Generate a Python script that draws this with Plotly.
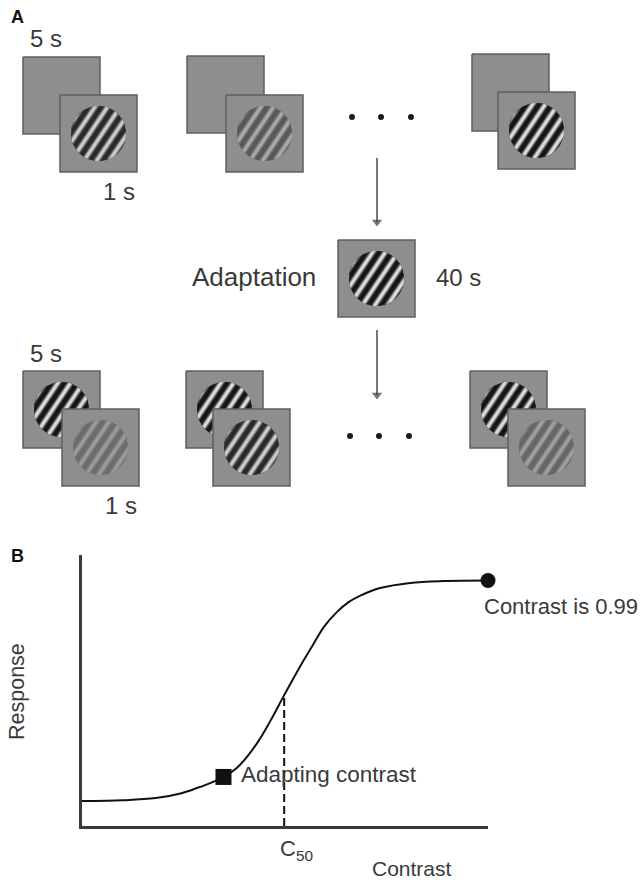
import numpy as np
import plotly.graph_objects as go

# ---------------- Panel B: contrast-response function ----------------
contrast = [0.0, 0.10, 0.18, 0.24, 0.28, 0.32, 0.345, 0.38, 0.427, 0.459, 0.493,
            0.527, 0.563, 0.59, 0.622, 0.65, 0.68, 0.727, 0.80, 0.88, 0.99]
response = [0.092, 0.095, 0.103, 0.120, 0.140, 0.163, 0.181, 0.218, 0.306, 0.387, 0.483,
            0.576, 0.668, 0.735, 0.790, 0.826, 0.851, 0.878, 0.897, 0.904, 0.906]
c50 = 0.493
r_c50 = 0.483
adapt_contrast = 0.345
adapt_response = 0.181
max_contrast = 0.99
max_response = 0.906

# ---------------- Panel A: stimulus sequence ----------------
pre_test_contrasts = [0.70, 0.35, 0.85]     # test gratings before adaptation
adapt_grating_contrast = 0.85               # adapting grating
post_adapt_contrasts = [0.85, 0.85, 0.85]   # top-up adaptor before each test
post_test_contrasts = [0.20, 0.70, 0.25]    # test gratings after adaptation
blank_label = "5 s"
test_label = "1 s"
adapt_label = "40 s"

# ---------------- layout constants (pixels of the page) ----------------
W, H = 641, 883
SQ = 77
RAD = 27.5
top_back = [(23, 57), (187, 56), (472, 54)]
top_front = [(60, 95), (226, 95), (498, 92)]
adapt_sq = (338, 240)
bot_back = [(23, 371), (186, 371), (470, 371)]
bot_front = [(62, 409), (213, 409), (508, 409)]
dots_top = [(352, 117), (381, 117), (411, 117)]
dots_bot = [(350, 436), (379, 436), (409, 436)]
arrows = [(377, 158, 228), (377, 330, 401)]

SQ_FILL = "#8e8e8e"
SQ_EDGE = "#5f5f5f"
TXT = "#3a3a3a"
FONT = "Liberation Sans, Arial, sans-serif"

fig = go.Figure()


def add_square(x, y):
    fig.add_trace(go.Scatter(
        x=[x, x + SQ, x + SQ, x, x], y=[y, y, y + SQ, y + SQ, y],
        mode="lines", fill="toself", fillcolor=SQ_FILL,
        line=dict(color=SQ_EDGE, width=1.5),
        xaxis="x2", yaxis="y2", hoverinfo="skip", showlegend=False))


def add_grating(cx, cy, c, period=10.5, theta_deg=56, levels=7, gamma=2.0):
    """Sinusoidal grating inside a disc, built from nested threshold bands."""
    th = np.deg2rad(theta_deg)
    n = np.array([np.sin(th), np.cos(th)])      # across the stripes
    d = np.array([np.cos(th), -np.sin(th)])     # along the stripes
    mean = 135.0
    lo = mean * (1 - c)
    hi = min(250.0, mean * (1 + c))
    peaks = np.arange(-3 * period, 3 * period + 0.1, period) + 0.3 * period
    for j in range(levels):
        m = (j + 0.5) / levels
        g = int(round(lo + (hi - lo) * m ** gamma))
        col = f"rgb({g},{g},{g})"
        xs, ys = [], []
        if j == 0:
            t = np.linspace(0, 2 * np.pi, 90)
            xs = list(cx + RAD * np.cos(t))
            ys = list(cy + RAD * np.sin(t))
        else:
            s = j / levels
            w = period / (2 * np.pi) * np.arccos(2 * s - 1)
            for p in peaks:
                u0, u1 = max(p - w, -RAD), min(p + w, RAD)
                if u1 - u0 <= 0.05:
                    continue
                uu = np.linspace(u0, u1, 14)
                vv = np.sqrt(np.clip(RAD ** 2 - uu ** 2, 0, None))
                ua = np.concatenate([uu, uu[::-1]])
                va = np.concatenate([vv, -vv[::-1]])
                px = cx + ua * n[0] + va * d[0]
                py = cy + ua * n[1] + va * d[1]
                xs += list(px) + [px[0], None]
                ys += list(py) + [py[0], None]
        fig.add_trace(go.Scatter(
            x=xs, y=ys, mode="lines", fill="toself", fillcolor=col,
            line=dict(width=0, color=col),
            xaxis="x2", yaxis="y2", hoverinfo="skip", showlegend=False))


# top row: blank then test grating
for (bx, by), (fx, fy), c in zip(top_back, top_front, pre_test_contrasts):
    add_square(bx, by)
    add_square(fx, fy)
    add_grating(fx + SQ / 2, fy + SQ / 2, c)

# adaptation stimulus
add_square(*adapt_sq)
add_grating(adapt_sq[0] + SQ / 2, adapt_sq[1] + SQ / 2, adapt_grating_contrast)

# bottom row: top-up adaptor then test grating
for (bx, by), (fx, fy), ca, ct in zip(bot_back, bot_front, post_adapt_contrasts, post_test_contrasts):
    add_square(bx, by)
    add_grating(bx + SQ / 2, by + SQ / 2, ca)
    add_square(fx, fy)
    add_grating(fx + SQ / 2, fy + SQ / 2, ct)

# ellipsis dots
for pts in (dots_top, dots_bot):
    fig.add_trace(go.Scatter(
        x=[p[0] for p in pts], y=[p[1] for p in pts], mode="markers",
        marker=dict(color="#1a1a1a", size=6), xaxis="x2", yaxis="y2",
        hoverinfo="skip", showlegend=False))

# downward arrows between rows
for ax_, y0, y1 in arrows:
    fig.add_trace(go.Scatter(
        x=[ax_, ax_], y=[y0, y1 - 6], mode="lines", line=dict(color="#4a4a4a", width=1.5),
        xaxis="x2", yaxis="y2", hoverinfo="skip", showlegend=False))
    fig.add_trace(go.Scatter(
        x=[ax_], y=[y1 - 6], mode="markers",
        marker=dict(symbol="triangle-down", size=[9], color="#3a3a3a", line=dict(width=0)),
        xaxis="x2", yaxis="y2", hoverinfo="skip", showlegend=False))

# ---------------- Panel B traces ----------------
fig.add_trace(go.Scatter(
    x=contrast, y=response, mode="lines",
    line=dict(color="#111111", width=2, shape="spline", smoothing=1.0),
    xaxis="x", yaxis="y", hoverinfo="skip", showlegend=False, cliponaxis=False))
fig.add_trace(go.Scatter(
    x=[c50, c50], y=[0, r_c50], mode="lines",
    line=dict(color="#111111", width=2, dash="8px,4px"),
    xaxis="x", yaxis="y", hoverinfo="skip", showlegend=False, cliponaxis=False))
fig.add_trace(go.Scatter(
    x=[adapt_contrast], y=[adapt_response], mode="markers",
    marker=dict(symbol="square", size=16, color="#111111"),
    xaxis="x", yaxis="y", hoverinfo="skip", showlegend=False, cliponaxis=False))
fig.add_trace(go.Scatter(
    x=[max_contrast], y=[max_response], mode="markers",
    marker=dict(symbol="circle", size=15, color="#111111"),
    xaxis="x", yaxis="y", hoverinfo="skip", showlegend=False, cliponaxis=False))

# ---------------- annotations ----------------
ann = []


def txt_px(x, y, text, size=24, xanchor="center", color=TXT, bold=False, angle=0):
    ann.append(dict(x=x, y=y, xref="x2", yref="y2", text=f"<b>{text}</b>" if bold else text,
                    showarrow=False, xanchor=xanchor, yanchor="middle", textangle=angle,
                    font=dict(family=FONT, size=size, color=color)))


txt_px(17, 17, "A", size=18, color="#111111", bold=True)
txt_px(46, 38, blank_label)
txt_px(119, 191, test_label)
txt_px(318, 277, "Adaptation", size=26, xanchor="right")
txt_px(434, 277, adapt_label, xanchor="left")
txt_px(46, 353, blank_label)
txt_px(121, 505, test_label)

txt_px(17, 556, "B", size=18, color="#111111", bold=True)
txt_px(17, 692, "Response", size=21.5, angle=-90)
txt_px(412, 868, "Contrast", size=21)

# panel B labels anchored to data points
ann.append(dict(x=adapt_contrast, y=adapt_response, xref="x", yref="y", text="Adapting contrast",
                showarrow=False, xanchor="left", yanchor="middle", xshift=16, yshift=2,
                font=dict(family=FONT, size=22.5, color=TXT)))
ann.append(dict(x=max_contrast, y=max_response, xref="x", yref="y", text=f"Contrast is {max_contrast}",
                showarrow=False, xanchor="left", yanchor="middle", xshift=-6, yshift=-26,
                font=dict(family=FONT, size=22, color=TXT)))
ann.append(dict(x=c50, y=0, xref="x", yref="y", text="C<sub>50</sub>",
                showarrow=False, xanchor="center", yanchor="middle", xshift=12, yshift=-24,
                font=dict(family=FONT, size=22, color=TXT)))

x0b, x1b = 82, 488
ytop, ybot = 555, 826
fig.update_layout(
    width=W, height=H, margin=dict(l=0, r=0, t=0, b=0),
    paper_bgcolor="white", plot_bgcolor="rgba(0,0,0,0)",
    showlegend=False, annotations=ann,
    xaxis=dict(domain=[x0b / W, x1b / W], range=[0, max_contrast], anchor="y",
               showline=True, linecolor="#3a3a3a", linewidth=2.5,
               showgrid=False, zeroline=False, showticklabels=False, ticks="", fixedrange=True),
    yaxis=dict(domain=[(H - ybot) / H, (H - ytop) / H], range=[0, 1], anchor="x",
               showline=True, linecolor="#3a3a3a", linewidth=2.5,
               showgrid=False, zeroline=False, showticklabels=False, ticks="", fixedrange=True),
    xaxis2=dict(domain=[0, 1], range=[0, W], anchor="y2", visible=False, fixedrange=True),
    yaxis2=dict(domain=[0, 1], range=[H, 0], anchor="x2", visible=False, fixedrange=True),
)

fig.write_html("out.html")
